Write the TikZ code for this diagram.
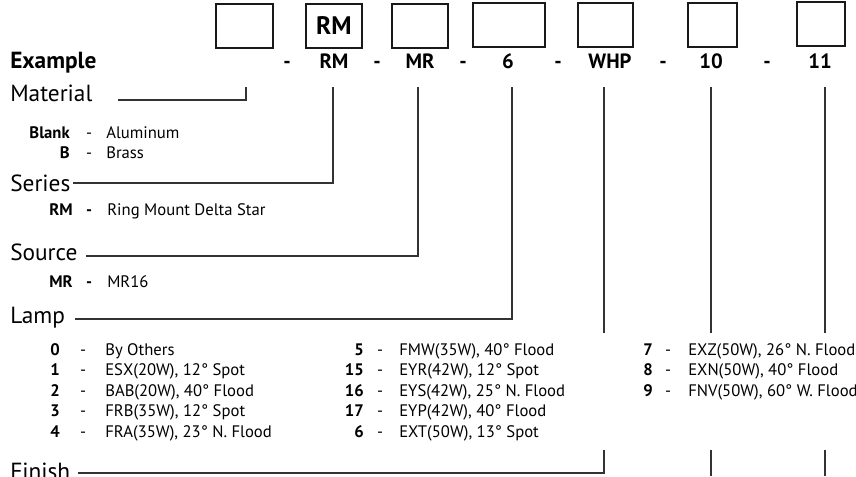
\documentclass[tikz,border=0pt]{standalone}
\usepackage{fontspec}
\setmainfont{PT Sans}
\usetikzlibrary{positioning}

\tikzset{
  codebox/.style={draw=black!90, line width=1pt, inner sep=0pt, minimum height=33pt},
  code/.style={font=\fontsize{15.5}{18}\selectfont\bfseries, anchor=base, inner sep=0pt},
  heading/.style={font=\fontsize{17.5}{20}\selectfont, anchor=base west, inner sep=0pt},
  num/.style={font=\fontsize{12.5}{15}\selectfont\bfseries, anchor=base east, inner sep=0pt},
  sep/.style={font=\fontsize{12.5}{15}\selectfont, anchor=base, inner sep=0pt},
  item/.style={font=\fontsize{12.5}{15}\selectfont, anchor=base west, inner sep=0pt},
  lead/.style={draw=black!80, line width=0.9pt}
}

\begin{document}
\begin{tikzpicture}[x=0.75pt, y=-0.75pt]
\useasboundingbox (0,0) rectangle (856,476);

% code boxes
\node[codebox, minimum width=42.75pt] (box1) at (244.5,26) {};
\node[codebox, minimum width=42pt, font=\fontsize{19}{22}\selectfont\bfseries] (box2) at (334,26) {RM};
\node[codebox, minimum width=42pt] (box3) at (420,26) {};
\node[codebox, minimum width=54pt] (box4) at (509,25) {};
\node[codebox, minimum width=41.25pt] (box5) at (605.5,25) {};
\node[codebox, minimum width=36.75pt] (box6) at (712.5,25) {};
\node[codebox, minimum width=36pt] (box7) at (821,24) {};

% example row
\node[code, anchor=base west, font=\fontsize{17.5}{20}\selectfont\bfseries] (example) at (10,68) {Example};
\foreach \x/\t [count=\i] in {287/-, 334/RM, 377/-, 420/MR, 463/-, 508/6, 558/-, 610/WHP, 663/-, 711/10, 767/-, 820/11}
  \node[code] (ex\i) at (\x,68) {\t};
\coordinate (rowbot) at (0,87);
\coordinate (gaptop) at (0,333);
\coordinate (gapbot) at (0,450);
\coordinate (pagebot) at (0,476);

% headings
\node[heading] (material) at (10,101) {Material};
\node[heading] (series) at (10,191) {Series};
\node[heading] (source) at (10,260) {Source};
\node[heading] (lamp) at (10,323) {Lamp};
\node[heading] (finish) at (10,479) {Finish};

% material
\node[num] (mat1) at (70,138) {Blank};
\node[sep] (matd1) at (89,138) {-};
\node[item] (matt1) at (106,138) {Aluminum};
\node[num] (mat2) at (70,158) {B};
\node[sep] (matd2) at (89,158) {-};
\node[item] (matt2) at (106,158) {Brass};

% series
\node[num] (ser1) at (73,215) {RM};
\node[sep, font=\fontsize{12.5}{15}\selectfont\bfseries] (serd1) at (89,215) {-};
\node[item] (sert1) at (107,215) {Ring Mount Delta Star};

% source
\node[num] (src1) at (73,287) {MR};
\node[sep, font=\fontsize{12.5}{15}\selectfont\bfseries] (srcd1) at (89,287) {-};
\node[item] (srct1) at (107,287) {MR16};

% lamps
\foreach \n/\t [count=\i] in {0/By Others, 1/{ESX(20W), 12° Spot}, 2/{BAB(20W), 40° Flood}, 3/{FRB(35W), 12° Spot}, 4/{FRA(35W), 23° N. Flood}} {
  \node[num] (la\i) at (60,{355+20.5*(\i-1)}) {\n};
  \node[sep] (lad\i) at (83,{355+20.5*(\i-1)}) {-};
  \node[item] (lat\i) at (105,{355+20.5*(\i-1)}) {\t};
}
\foreach \n/\t [count=\i] in {5/{FMW(35W), 40° Flood}, 15/{EYR(42W), 12° Spot}, 16/{EYS(42W), 25° N. Flood}, 17/{EYP(42W), 40° Flood}, 6/{EXT(50W), 13° Spot}} {
  \node[num] (lb\i) at (364,{355+20.5*(\i-1)}) {\n};
  \node[sep] (lbd\i) at (380,{355+20.5*(\i-1)}) {-};
  \node[item] (lbt\i) at (399,{355+20.5*(\i-1)}) {\t};
}
\foreach \n/\t [count=\i] in {7/{EXZ(50W), 26° N. Flood}, 8/{EXN(50W), 40° Flood}, 9/{FNV(50W), 60° W. Flood}} {
  \node[num] (lc\i) at (653,{355+20.5*(\i-1)}) {\n};
  \node[sep] (lcd\i) at (668,{355+20.5*(\i-1)}) {-};
  \node[item] (lct\i) at (688,{355+20.5*(\i-1)}) {\t};
}

% leaders
\draw[lead] ([xshift=1.1pt]box1 |- rowbot) |- ([shift={(25,-1)}]material.base east);
\draw[lead] ([xshift=-0.75pt]box2 |- rowbot) |- ([shift={(2,-8)}]series.base east);
\draw[lead] ([xshift=-1.5pt]box3 |- rowbot) |- ([shift={(8,-4)}]source.base east);
\draw[lead] ([xshift=2.25pt]box4 |- rowbot) |- ([shift={(10,-4)}]lamp.base east);
\draw[lead] ([xshift=-1.1pt]box5 |- rowbot) -- ([xshift=-1.1pt]box5 |- gaptop);
\draw[lead] ([xshift=-1.1pt]box5 |- gapbot) |- ([shift={(8,-6)}]finish.base east);
\draw[lead] ([xshift=-1.1pt]box6 |- rowbot) -- ([xshift=-1.1pt]box6 |- gaptop);
\draw[lead] ([xshift=-1.1pt]box6 |- gapbot) -- ([xshift=-1.1pt]box6 |- pagebot);
\draw[lead] ([xshift=3pt]box7 |- rowbot) -- ([xshift=3pt]box7 |- gaptop);
\draw[lead] ([xshift=3pt]box7 |- gapbot) -- ([xshift=3pt]box7 |- pagebot);
\end{tikzpicture}
\end{document}
